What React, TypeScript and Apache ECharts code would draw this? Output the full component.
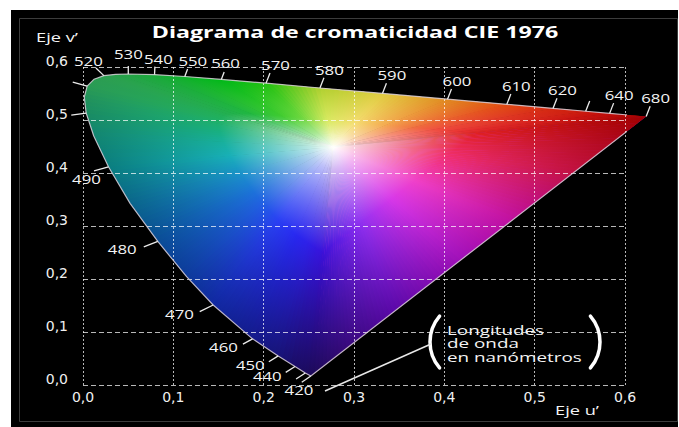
import React, { useEffect, useRef } from "react";
import * as echarts from "echarts";

// Spectral locus (CIE 1976 u'v'), wavelength in nm
const WAVELENGTHS = [420, 430, 440, 450, 460, 470, 475, 480, 485, 490, 495, 500, 505, 510, 515, 520, 525, 530, 540, 550, 560, 570, 580, 590, 600, 610, 620, 630, 640, 650, 660, 680];
const U_PRIME = [0.2522, 0.2461, 0.2347, 0.2161, 0.1877, 0.1441, 0.1147, 0.0828, 0.0521, 0.0282, 0.0119, 0.0035, 0.0014, 0.0046, 0.0123, 0.0231, 0.036, 0.0501, 0.0792, 0.1127, 0.1531, 0.2026, 0.2623, 0.3315, 0.4035, 0.4692, 0.5203, 0.5565, 0.583, 0.6005, 0.6109, 0.6234];
const V_PRIME = [0.0169, 0.0226, 0.035, 0.0549, 0.0871, 0.151, 0.2044, 0.2708, 0.3427, 0.4117, 0.4698, 0.5131, 0.5432, 0.5638, 0.577, 0.5837, 0.5861, 0.5868, 0.5856, 0.5821, 0.5766, 0.5694, 0.5604, 0.5501, 0.5393, 0.5296, 0.5219, 0.5165, 0.5125, 0.5099, 0.5084, 0.5065];

const TICK_WAVELENGTHS = [420, 430, 440, 450, 460, 470, 480, 490, 500, 510, 520, 530, 540, 550, 560, 570, 580, 590, 600, 610, 620, 630, 640, 680];
const LABELED_WAVELENGTHS = [420, 440, 450, 460, 470, 480, 490, 520, 530, 540, 550, 560, 570, 580, 590, 600, 610, 620, 640, 680];

const X_TICK_LABELS = ["0,0", "0,1", "0,2", "0,3", "0,4", "0,5", "0,6"];
const Y_TICK_LABELS = ["0,0", "0,1", "0,2", "0,3", "0,4", "0,5", "0,6"];

// ---- styling (colour field, label nudges) ----
const WHITE_POINT = [0.277, 0.449];
const COLOR_PARAMS = [420, 440, 460, 470, 480, 490, 500, 510, 520, 540, 560, 570, 580, 590, 600, 610, 620, 640, 680, 700, 720, 735, 755, 780];
const EDGE_COLORS = ["#1c0a58", "#1a0c66", "#141a8a", "#1028a0", "#0a4c96", "#0a7f80", "#1a8c62", "#2a9a55", "#2c9e50", "#18a838", "#00b818", "#20c010", "#b0d030", "#e0cc40", "#e08a20", "#e04a10", "#d42810", "#c00c08", "#a00000", "#c0103c", "#c010a0", "#a010b8", "#5a08a8", "#1c0a58"];
const MID_COLORS = ["#3a10d8", "#3418e0", "#2828f0", "#2a40f4", "#1c74d8", "#18b0b8", "#18b080", "#20b060", "#22b050", "#20b840", "#40cc30", "#70d840", "#d8ea60", "#f4dc70", "#f4a850", "#f07040", "#f05040", "#e83030", "#e02020", "#f03070", "#f040c8", "#d838e8", "#9030f0", "#3a10d8"];
const LABEL_NUDGE: Record<number, number[]> = { 490: [15, 7], 420: [15, 4], 530: [0, -3], 520: [7, -2], 540: [3, 1], 560: [-4, -1] };

function hexToRgb(h: string): number[] {
  const n = parseInt(h.slice(1), 16);
  return [(n >> 16) & 255, (n >> 8) & 255, n & 255];
}
const EDGE_RGB = EDGE_COLORS.map(hexToRgb);
const MID_RGB = MID_COLORS.map(hexToRgb);
const WHITE_RGB = [255, 255, 252];

function mix(a: number[], b: number[], f: number): number[] {
  return [a[0] + (b[0] - a[0]) * f, a[1] + (b[1] - a[1]) * f, a[2] + (b[2] - a[2]) * f];
}
function interpStops(q: number, cols: number[][]): number[] {
  if (q <= COLOR_PARAMS[0]) return cols[0];
  for (let k = 0; k < COLOR_PARAMS.length - 1; k++) {
    if (q <= COLOR_PARAMS[k + 1]) {
      const f = (q - COLOR_PARAMS[k]) / (COLOR_PARAMS[k + 1] - COLOR_PARAMS[k]);
      return mix(cols[k], cols[k + 1], f);
    }
  }
  return cols[cols.length - 1];
}
function colorAt(q: number, t: number): string {
  const e = interpStops(q, EDGE_RGB);
  const m = interpStops(q, MID_RGB);
  const TM = 0.46;
  let c: number[];
  if (t < TM) c = mix(WHITE_RGB, m, Math.pow(t / TM, 0.8));
  else c = mix(m, e, (t - TM) / (1 - TM));
  return `rgb(${Math.round(c[0])},${Math.round(c[1])},${Math.round(c[2])})`;
}
const STOP_OFFSETS = [0, 0.05, 0.1, 0.16, 0.22, 0.29, 0.36, 0.46, 0.6, 0.74, 0.87, 1];

function gradient(pw: number[], foot: number[], q: number) {
  return {
    type: "linear",
    x: pw[0],
    y: pw[1],
    x2: foot[0],
    y2: foot[1],
    global: true,
    colorStops: STOP_OFFSETS.map((o) => ({ offset: o, color: colorAt(q, o) })),
  };
}

// geometry of one fan triangle: white point -> locus segment a..a+1 (closing segment = line of purples)
function segmentGeom(api: any) {
  const n = U_PRIME.length;
  const a = api.value(2);
  const b = (a + 1) % n;
  const pa = api.coord([U_PRIME[a], V_PRIME[a]]);
  const pb = api.coord([U_PRIME[b], V_PRIME[b]]);
  const pw = api.coord(WHITE_POINT);
  const qa = WAVELENGTHS[a];
  const qb = a === n - 1 ? 780 : WAVELENGTHS[b];
  const ddx = pb[0] - pa[0];
  const ddy = pb[1] - pa[1];
  const len = Math.hypot(ddx, ddy) || 1;
  const ux = ddx / len;
  const uy = ddy / len;
  const proj = (pw[0] - pa[0]) * ux + (pw[1] - pa[1]) * uy;
  const foot = [pa[0] + ux * proj, pa[1] + uy * proj];
  return { pa, pb, pw, qa, qb, ddx, ddy, len, foot };
}

function renderUnder(params: any, api: any) {
  const g = segmentGeom(api);
  return {
    type: "polygon",
    shape: { points: [g.pw, g.pa, g.pb] },
    style: { fill: gradient(g.pw, g.foot, (g.qa + g.qb) / 2) },
    silent: true,
  };
}

function renderFill(params: any, api: any) {
  const g = segmentGeom(api);
  const m = Math.max(1, Math.ceil(g.len / 5));
  const ext = 1.1 / g.len;
  const children: any[] = [];
  for (let j = 0; j < m; j++) {
    const f0 = j / m;
    const f1 = (j + 1) / m + ext;
    const s0 = [g.pa[0] + g.ddx * f0, g.pa[1] + g.ddy * f0];
    const s1 = [g.pa[0] + g.ddx * f1, g.pa[1] + g.ddy * f1];
    const q = g.qa + (g.qb - g.qa) * ((j + 0.5) / m);
    children.push({
      type: "polygon",
      shape: { points: [g.pw, s0, s1] },
      style: { fill: gradient(g.pw, g.foot, q) },
      silent: true,
    });
  }
  return { type: "group", children };
}

function renderCore(params: any, api: any) {
  const pw = api.coord(WHITE_POINT);
  return {
    type: "circle",
    shape: { cx: pw[0], cy: pw[1], r: 22 },
    style: {
      fill: {
        type: "radial",
        x: 0.5,
        y: 0.5,
        r: 0.5,
        colorStops: [
          { offset: 0, color: "rgba(255,255,252,1)" },
          { offset: 0.5, color: "rgba(255,255,252,0.8)" },
          { offset: 1, color: "rgba(255,255,252,0)" },
        ],
      },
    },
    silent: true,
  };
}

function renderTick(params: any, api: any) {
  const n = U_PRIME.length;
  const idx = api.value(2);
  const wl = WAVELENGTHS[idx];
  const p = api.coord([U_PRIME[idx], V_PRIME[idx]]);
  const pp = api.coord([U_PRIME[Math.max(idx - 1, 0)], V_PRIME[Math.max(idx - 1, 0)]]);
  const pn = api.coord([U_PRIME[Math.min(idx + 1, n - 1)], V_PRIME[Math.min(idx + 1, n - 1)]]);
  const pw = api.coord(WHITE_POINT);
  let tx = pn[0] - pp[0];
  let ty = pn[1] - pp[1];
  const tl = Math.hypot(tx, ty) || 1;
  tx /= tl;
  ty /= tl;
  let nx = -ty;
  let ny = tx;
  if ((p[0] - pw[0]) * nx + (p[1] - pw[1]) * ny < 0) {
    nx = -nx;
    ny = -ny;
  }
  const bias = wl <= 520 ? -0.8 : wl >= 550 ? 0.3 : 0;
  let dx = nx + bias;
  let dy = ny;
  const dl = Math.hypot(dx, dy) || 1;
  dx /= dl;
  dy /= dl;
  const L = wl >= 470 && wl <= 510 ? 15 : wl >= 530 && wl <= 560 ? 8 : 11;
  const ex = p[0] + dx * L;
  const ey = p[1] + dy * L;
  const children: any[] = [
    {
      type: "line",
      shape: { x1: p[0], y1: p[1], x2: ex, y2: ey },
      style: { stroke: "#ececec", lineWidth: 1.3 },
    },
  ];
  if (LABELED_WAVELENGTHS.indexOf(wl) >= 0) {
    const nudge = LABEL_NUDGE[wl] || [0, 0];
    children.push({
      type: "text",
      x: ex + dx * (10 + 14 * Math.abs(dx)) + nudge[0],
      y: ey + dy * (4 + 5 * Math.abs(dy)) + nudge[1],
      scaleX: 1.4,
      style: {
        text: String(wl),
        fill: "#f4f4f4",
        fontSize: 12,
        fontFamily: "Open Sans",
        align: "center",
        verticalAlign: "middle",
      },
    });
  }
  return { type: "group", children };
}

export default function App() {
  const ref = useRef<HTMLDivElement>(null);
  useEffect(() => {
    if (!ref.current) return;
    const chart = echarts.init(ref.current, null, { renderer: "svg" });
    const locusData = WAVELENGTHS.map((w, i) => [U_PRIME[i], V_PRIME[i], i]);
    const outline = WAVELENGTHS.map((w, i) => [U_PRIME[i], V_PRIME[i]]);
    outline.push([U_PRIME[0], V_PRIME[0]]);
    const tickData = TICK_WAVELENGTHS.map((w) => {
      const i = WAVELENGTHS.indexOf(w);
      return [U_PRIME[i], V_PRIME[i], i];
    });
    const txt = (text: string, x: number, y: number, extra: any = {}) => ({
      type: "text",
      x,
      y,
      scaleX: extra.scaleX ?? 1.4,
      z: 50,
      style: {
        text,
        fill: extra.fill ?? "#f4f4f4",
        fontSize: extra.fontSize ?? 13,
        fontWeight: extra.fontWeight ?? "normal",
        fontFamily: "Open Sans",
        align: extra.align ?? "center",
        verticalAlign: extra.verticalAlign ?? "middle",
        lineHeight: extra.lineHeight,
      },
    });
    chart.setOption({
      animation: false,
      backgroundColor: "#ffffff",
      grid: { left: 83, right: 54, top: 67, bottom: 42 },
      xAxis: {
        type: "value",
        min: 0,
        max: 0.6,
        interval: 0.1,
        z: 5,
        axisLine: { show: false },
        axisTick: { show: false },
        splitLine: { show: true, lineStyle: { color: "rgba(255,255,255,0.72)", type: [2, 2], width: 1 } },
        axisLabel: {
          color: "#f0f0f0",
          fontFamily: "DejaVu Sans",
          fontSize: 14,
          margin: 5,
          formatter: (v: number) => X_TICK_LABELS[Math.round(v * 10)],
        },
      },
      yAxis: {
        type: "value",
        min: 0,
        max: 0.6,
        interval: 0.1,
        z: 5,
        axisLine: { show: false },
        axisTick: { show: false },
        splitLine: { show: true, lineStyle: { color: "rgba(255,255,255,0.72)", type: [5, 3], width: 1 } },
        axisLabel: {
          color: "#f0f0f0",
          fontFamily: "DejaVu Sans",
          fontSize: 14,
          margin: 15,
          verticalAlign: "bottom",
          lineHeight: 12,
          formatter: (v: number) => Y_TICK_LABELS[Math.round(v * 10)],
        },
      },
      graphic: [
        { type: "rect", z: -100, shape: { x: 11, y: 10, width: 667, height: 417 }, style: { fill: "#000000" } },
        { type: "rect", z: -99, shape: { x: 19.5, y: 18.5, width: 658, height: 403 }, style: { fill: "none", stroke: "#3c3c3c", lineWidth: 1 } },
        txt("Diagrama de cromaticidad CIE 1976", 355, 32, { fontSize: 16, fontWeight: "bold", scaleX: 1.45, fill: "#ffffff" }),
        txt("Eje v’", 57, 37, { fontSize: 13 }),
        txt("Eje u’", 577, 410, { fontSize: 13 }),
        txt("Longitudes\nde onda\nen nanómetros", 447, 323, { fontSize: 13, align: "left", verticalAlign: "top", lineHeight: 13.5, scaleX: 1.45 }),
        {
          type: "arc",
          z: 50,
          shape: { cx: 470, cy: 342, r: 40, startAngle: Math.PI * 0.775, endAngle: Math.PI * 1.225 },
          style: { stroke: "#ffffff", lineWidth: 3.5, fill: "none", lineCap: "round" },
        },
        {
          type: "arc",
          z: 50,
          shape: { cx: 560, cy: 342, r: 40, startAngle: -Math.PI * 0.225, endAngle: Math.PI * 0.225 },
          style: { stroke: "#ffffff", lineWidth: 3.5, fill: "none", lineCap: "round" },
        },
        {
          type: "line",
          z: 50,
          shape: { x1: 325, y1: 391, x2: 431, y2: 344 },
          style: { stroke: "#e8e8e8", lineWidth: 1.5 },
        },
      ],
      series: [
        {
          type: "custom",
          name: "fillUnder",
          z: 1,
          silent: true,
          renderItem: renderUnder,
          data: locusData,
        },
        {
          type: "custom",
          name: "core",
          z: 1.5,
          silent: true,
          renderItem: renderCore,
          data: [WHITE_POINT],
        },
        {
          type: "custom",
          name: "fill",
          z: 2,
          silent: true,
          renderItem: renderFill,
          data: locusData,
        },
        {
          type: "line",
          name: "locus",
          z: 6,
          silent: true,
          symbol: "none",
          data: outline,
          lineStyle: { color: "rgba(215,205,215,0.85)", width: 1.2 },
        },
        {
          type: "custom",
          name: "ticks",
          z: 7,
          silent: true,
          renderItem: renderTick,
          data: tickData,
        },
      ],
    });
    return () => chart.dispose();
  }, []);
  return <div ref={ref} style={{ position: "fixed", left: 0, top: 0, width: 679, height: 427 }} />;
}
